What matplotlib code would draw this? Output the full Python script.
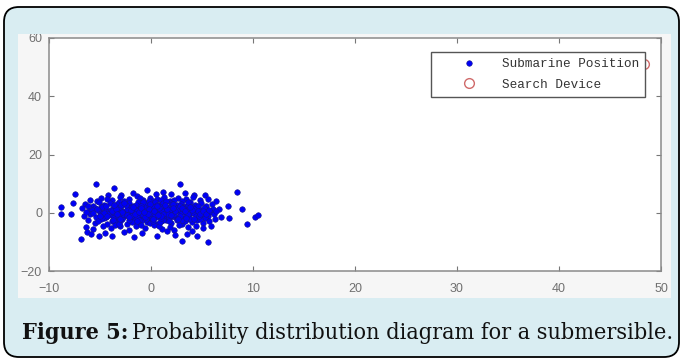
import numpy as np
import matplotlib
matplotlib.use("Agg")
import matplotlib.pyplot as plt
from matplotlib.patches import FancyBboxPatch, Rectangle
from matplotlib.transforms import IdentityTransform

# submarine position samples
sub_pts = [
    (-5.4, 9.7), (-3.6, 8.4), (2.8, 9.7), (-0.4, 7.8), (8.4, 7.2), (-7.5, 6.5), (4.2, 6.1), (5.3, 6.1),
    (1.2, 7.0), (-1.8, 6.8), (0.5, 6.3), (2.0, 6.6), (-2.9, 6.2), (3.3, 6.9), (-4.2, 6.0),
    (-6.0, 4.5), (-4.9, 5.2), (-3.8, 4.3), (-3.0, 5.5), (-2.2, 4.8), (-1.4, 5.6), (-0.8, 4.4), (-0.1, 5.1),
    (0.6, 4.7), (1.3, 5.4), (1.9, 4.2), (2.6, 5.0), (3.4, 4.6), (4.1, 5.3), (4.8, 4.4), (6.4, 4.0),
    (-5.3, 4.0), (-2.6, 4.1), (0.2, 4.0), (1.0, 4.3), (2.3, 4.5), (3.0, 4.1), (-1.1, 4.9), (5.6, 4.8), (-4.3, 4.8),
    (-7.6, 3.5), (-6.5, 3.1), (-5.7, 2.4), (-5.1, 3.6), (-4.6, 2.8), (-4.0, 3.4), (-3.5, 2.2), (-3.1, 3.8),
    (-2.7, 2.9), (-2.2, 3.3), (-1.8, 2.4), (-1.3, 3.6), (-0.9, 2.7), (-0.4, 3.2), (0.0, 2.3), (0.4, 3.7),
    (0.8, 2.8), (1.2, 3.3), (1.6, 2.1), (2.0, 3.5), (2.5, 2.6), (2.9, 3.1), (3.4, 2.3), (3.8, 3.6),
    (4.3, 2.7), (4.9, 3.2), (5.4, 2.4), (6.0, 2.9), (7.5, 2.3), (-4.9, 2.1), (-2.0, 2.0), (0.6, 2.5),
    (1.5, 3.9), (-3.3, 3.0), (3.1, 2.0), (-0.2, 3.9), (2.2, 2.2), (-1.5, 2.8), (4.6, 2.2), (-6.2, 2.2),
    (-8.8, 2.0), (-8.8, -0.4), (-7.8, -0.5), (-6.8, 1.5), (-6.1, 0.6), (-5.5, 1.7), (-5.0, 0.3), (-4.5, 1.2),
    (-4.1, 0.5), (-3.7, 1.8), (-3.3, 0.2), (-2.9, 1.1), (-2.5, 0.7), (-2.1, 1.6), (-1.7, 0.3), (-1.2, 1.3),
    (-0.8, 0.8), (-0.3, 1.7), (0.1, 0.4), (0.5, 1.2), (0.9, 0.6), (1.4, 1.8), (1.8, 0.2), (2.2, 1.0),
    (2.7, 0.5), (3.1, 1.5), (3.6, 0.8), (4.0, 1.9), (4.4, 0.3), (4.9, 1.1), (5.5, 0.8), (6.1, 1.4),
    (6.7, 1.2), (8.9, 1.2), (-5.8, 0.9), (-4.8, 1.9), (-3.0, 1.9), (-1.0, 0.1), (0.3, 1.9), (1.1, 1.5),
    (2.5, 1.8), (3.3, 0.1), (5.2, 1.7), (-2.3, 0.1), (-0.5, 0.5), (1.6, 0.9), (2.9, 0.9), (4.2, 1.3),
    (-3.9, 1.0), (-1.5, 1.0), (0.7, 0.0), (3.9, 0.4), (5.8, 0.2),
    (-6.6, -1.2), (-6.0, -0.6), (-5.4, -1.6), (-4.9, -0.4), (-4.4, -1.3), (-3.9, -0.8), (-3.4, -1.9),
    (-3.0, -0.3), (-2.6, -1.1), (-2.2, -0.6), (-1.8, -1.7), (-1.3, -0.2), (-0.9, -1.3), (-0.5, -0.7),
    (-0.1, -1.8), (0.3, -0.4), (0.7, -1.2), (1.1, -0.8), (1.5, -1.9), (1.9, -0.3), (2.4, -1.4), (2.8, -0.6),
    (3.2, -1.7), (3.7, -0.9), (4.1, -0.2), (4.6, -1.5), (5.0, -0.7), (5.6, -1.1), (6.2, -0.5), (7.6, -1.7),
    (10.2, -1.4), (10.5, -0.9), (6.9, -1.3), (-5.7, -0.2), (-3.6, -1.4), (-1.6, -0.9), (0.5, -1.6),
    (2.1, -1.0), (3.5, -0.4), (4.4, -1.0), (-2.8, -1.8), (-0.3, -1.0), (1.3, -0.1), (2.6, -1.9), (5.3, -1.8),
    (-4.6, -1.9), (-1.1, -1.9), (0.9, -0.5),
    (-6.2, -2.6), (-5.5, -3.4), (-4.9, -2.3), (-4.3, -3.7), (-3.8, -2.8), (-3.3, -3.3), (-2.8, -2.2),
    (-2.4, -3.9), (-1.9, -2.7), (-1.4, -3.5), (-0.9, -2.4), (-0.4, -3.1), (0.1, -2.2), (0.6, -3.8),
    (1.0, -2.9), (1.5, -2.4), (2.0, -3.4), (2.5, -2.6), (3.0, -3.7), (3.5, -2.3), (4.0, -3.1), (4.5, -2.5),
    (5.1, -3.5), (5.7, -2.8), (6.3, -2.2), (9.4, -3.7), (-3.0, -2.9), (-0.1, -3.6), (1.8, -2.1), (3.3, -2.9),
    (4.8, -2.1), (-1.6, -2.2), (-5.2, -2.8),
    (-6.4, -5.0), (-5.7, -5.6), (-4.7, -4.5), (-3.9, -5.3), (-3.0, -4.4), (-2.2, -5.8), (-1.5, -4.6),
    (-0.6, -5.2), (0.3, -4.3), (1.1, -5.5), (1.9, -4.8), (2.7, -4.2), (3.6, -5.0), (4.4, -4.4), (5.1, -5.1),
    (5.9, -4.6), (-1.0, -4.1), (0.8, -4.7), (2.3, -5.9), (-3.5, -4.2),
    (-6.3, -6.5), (-5.9, -7.3), (-5.1, -8.1), (-4.5, -7.1), (-3.8, -8.1), (-6.9, -9.0), (0.6, -8.1),
    (3.0, -9.6), (4.5, -7.9), (3.5, -7.3), (5.6, -10.2), (-2.6, -6.6), (-0.9, -7.0), (1.6, -6.4),
    (2.4, -7.5), (-1.7, -8.2), (4.0, -6.3),
    (-3.5, 0.0), (-2.7, -0.4), (-1.9, 0.5), (-1.1, -0.3), (-0.2, 0.2), (0.6, -0.2), (1.4, 0.4), (2.3, -0.5),
    (3.0, 0.3), (-3.2, -1.0), (-2.4, 1.4), (-1.4, -1.4), (-0.6, 1.4), (0.2, -1.3), (1.0, 1.1), (1.8, -1.3),
    (2.6, 1.3), (3.4, -1.2), (-4.2, -0.3), (4.6, 0.6), (-0.7, 2.1), (0.9, 2.0), (-2.5, 2.5), (2.8, 2.4),
    (-1.2, -2.5), (1.2, -2.6), (-3.7, -2.4), (3.8, -2.0), (0.0, -0.8), (0.4, 0.9), (-0.4, -0.1), (-1.4, 0.6),
    (1.7, -0.6), (-2.0, -1.2), (2.0, 1.4), (-0.1, 2.9), (0.2, -2.8), (-2.9, 2.6), (3.0, -2.4), (-4.4, 2.4),
    (4.7, -1.1), (-5.2, 0.8), (5.3, 0.2), (-0.8, 3.6), (0.9, -3.3), (-1.9, -3.2), (2.1, 2.9), (-3.1, -3.9),
    (3.6, 3.8), (-0.5, -2.3),
    (-3.8, 0.6), (-3.4, 1.4), (-2.8, 0.4), (-2.4, -0.8), (-2.0, 0.9), (-1.6, -0.4), (-1.2, 0.2), (-0.8, -0.9),
    (-0.4, 1.1), (0.0, 0.0), (0.4, -0.9), (0.8, 1.5), (1.2, -0.3), (1.6, 1.3), (2.0, -0.8), (2.4, 0.6),
    (2.8, -1.1), (3.2, 0.8), (3.6, -0.3), (4.0, 1.0),
    (-3.6, 2.6), (-3.0, -2.1), (-2.6, 3.5), (-2.2, -2.4), (-1.8, 1.9), (-1.4, -2.9), (-1.0, 2.4), (-0.6, -1.6),
    (-0.2, 1.4), (0.2, -2.0), (0.6, 2.2), (1.0, -1.8), (1.4, 2.6), (1.8, -2.8), (2.2, 3.1), (2.6, -2.2),
    (3.0, 1.6), (3.4, -1.9), (3.8, 2.1), (4.2, -2.3),
    (-4.6, 0.0), (-4.3, -1.0), (-5.0, -1.2), (-5.3, 1.3), (4.8, -0.3), (5.1, 0.6), (5.4, -0.6), (5.7, 1.1),
    (-6.4, 0.2), (6.4, 0.5), (-0.3, -0.4), (0.3, 0.6), (-1.0, 1.8), (1.0, -1.2), (-2.2, -1.6), (2.2, 1.7),
    (-3.3, -0.6), (3.3, 0.5), (-0.7, 0.3), (0.7, -0.8),
]
sub_x = np.array([p[0] for p in sub_pts])
sub_y = np.array([p[1] for p in sub_pts])

device_x = [48.3]
device_y = [51.0]

x_ticks = [-10, 0, 10, 20, 30, 40, 50]
y_ticks = [-20, 0, 20, 40, 60]

W, H = 681, 360
fig = plt.figure(figsize=(W / 100, H / 100), dpi=100)

# rounded light blue panel with black border (pixel coords)
panel = FancyBboxPatch((4, 3), 675, 350, boxstyle="round,pad=0,rounding_size=15",
                       transform=IdentityTransform(), facecolor="#d9edf2",
                       edgecolor="black", linewidth=1.3, zorder=-3)
fig.patches.append(panel)

# the pasted screenshot area
img = Rectangle((18 / W, 1 - 298 / H), 653 / W, 264 / H, transform=fig.transFigure,
                facecolor="#f6f6f6", edgecolor="none", zorder=-2)
fig.patches.append(img)

ax = fig.add_axes([49 / W, 1 - 271 / H, 612 / W, 233 / H])
ax.set_facecolor("white")

ax.plot(sub_x, sub_y, "o", ms=4.0, color="#0000f5", mec="#14148a", mew=0.4,
        label="Submarine Position", zorder=3)
ax.plot(device_x, device_y, "o", ms=7, mfc="none", mec="#d06a6a", mew=1.0,
        label="Search Device", zorder=2)

ax.set_xlim(-10, 50)
ax.set_ylim(-20, 60)
ax.set_xticks(x_ticks)
ax.set_yticks(y_ticks)
ax.tick_params(direction="in", length=3.5, width=0.8, color="#777777",
               labelcolor="#707070", labelsize=9, top=True, right=True)
ax.tick_params(axis="x", pad=9)
ax.tick_params(axis="y", pad=5)
for lbl in ax.get_xticklabels() + ax.get_yticklabels():
    lbl.set_fontfamily("Liberation Sans")
for s in ax.spines.values():
    s.set_color("#8a8a8a")
    s.set_linewidth(1.1)

leg = ax.legend(loc="upper right", bbox_to_anchor=(0.974, 0.94), borderaxespad=0,
                fancybox=False, edgecolor="#555555", framealpha=1,
                prop={"family": "Liberation Mono", "size": 9.1},
                labelspacing=0.65, borderpad=0.5, handlelength=5.0, handletextpad=0.1)
leg.get_frame().set_linewidth(1.0)
leg.set_zorder(5)
for t in leg.get_texts():
    t.set_color("#333333")

# caption: bold label + regular text, same size, fitted to reference width
fig.canvas.draw()
r = fig.canvas.get_renderer()

# the top tick label is cut by the pasted image edge in the source
for tk in ax.yaxis.get_major_ticks():
    tk.label1.set_clip_path(img)

cap_kw = dict(fontfamily="DejaVu Serif", fontstretch="condensed", va="center",
              ha="left", color="#111111")
t1 = fig.text(22 / W, 1 - 333 / H, "Figure 5:", fontweight="bold", fontsize=16, **cap_kw)
t2 = fig.text(0, 1 - 333 / H, "Probability distribution diagram for a submersible.",
              fontsize=16, **cap_kw)
gap = 4
w1 = t1.get_window_extent(r).width
w2 = t2.get_window_extent(r).width
size = 16 * (654 - gap) / (w1 + w2)
t1.set_fontsize(size)
t2.set_fontsize(size)
w1 = t1.get_window_extent(r).width
t2.set_x((22 + w1 + gap) / W)

fig.savefig("out.png", dpi=100)
